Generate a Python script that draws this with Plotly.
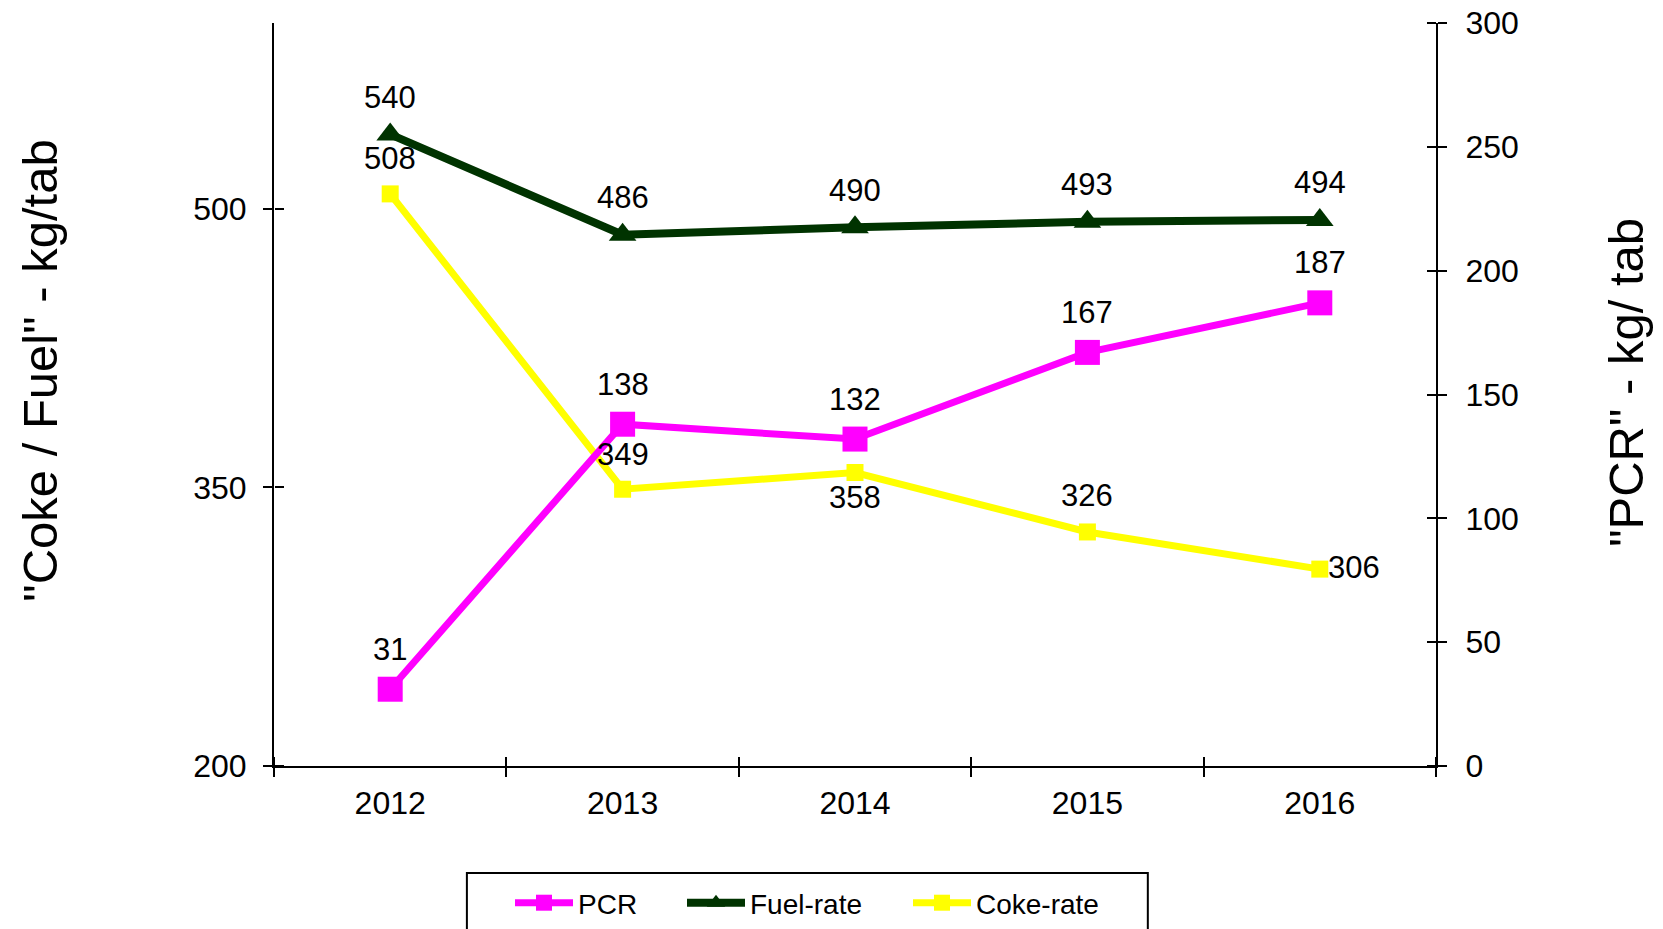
import plotly.graph_objects as go

years = ["2012", "2013", "2014", "2015", "2016"]
pcr = [31, 138, 132, 167, 187]
fuel_rate = [540, 486, 490, 493, 494]
coke_rate = [508, 349, 358, 326, 306]

# label offsets (px) relative to each point
pcr_label_dy = [-40, -40, -40, -40, -40]
fuel_label_dy = [-37, -37, -37, -37, -37]
coke_label_dy = [-35, -35, 25, -36, -2]
coke_label_dx = [0, 0, 0, 0, 34]

left_ticks = [200, 350, 500]
left_range = [200, 600]
right_range = [0, 300]

FONT = "Arial, 'Liberation Sans', sans-serif"
idx = list(range(len(years)))
bounds = [i - 0.5 for i in range(len(years) + 1)]

fig = go.Figure()

fig.add_trace(go.Scatter(
    x=idx, y=coke_rate, name="Coke-rate", mode="lines+markers",
    line=dict(color="#FFFF00", width=7),
    marker=dict(symbol="square", size=17, color="#FFFF00"),
    yaxis="y", legend="legend3", hoverinfo="skip",
))
fig.add_trace(go.Scatter(
    x=idx, y=fuel_rate, name="Fuel-rate", mode="lines+markers",
    line=dict(color="#003300", width=8),
    marker=dict(symbol="triangle-up", size=24, color="#003300"),
    yaxis="y", legend="legend2", hoverinfo="skip",
))
fig.add_trace(go.Scatter(
    x=idx, y=pcr, name="PCR", mode="lines+markers",
    line=dict(color="#FF00FF", width=7),
    marker=dict(symbol="square", size=25, color="#FF00FF"),
    yaxis="y2", legend="legend", hoverinfo="skip",
))
# helper (empty) traces so the crossing-tick overlay axes get drawn
fig.add_trace(go.Scatter(x=[None], y=[None], xaxis="x2", yaxis="y3", showlegend=False, hoverinfo="skip"))
fig.add_trace(go.Scatter(x=[None], y=[None], xaxis="x3", yaxis="y4", showlegend=False, hoverinfo="skip"))

annotations = []
lab_font = dict(family=FONT, size=31, color="black")
for i, v in enumerate(pcr):
    annotations.append(dict(x=idx[i], y=v, xref="x", yref="y2", text=str(v), showarrow=False,
                            yshift=-pcr_label_dy[i], font=lab_font))
for i, v in enumerate(fuel_rate):
    annotations.append(dict(x=idx[i], y=v, xref="x", yref="y", text=str(v), showarrow=False,
                            yshift=-fuel_label_dy[i], font=lab_font))
for i, v in enumerate(coke_rate):
    annotations.append(dict(x=idx[i], y=v, xref="x", yref="y", text=str(v), showarrow=False,
                            yshift=-coke_label_dy[i], xshift=coke_label_dx[i], font=lab_font))

annotations += [
    dict(text='"Coke / Fuel" - kg/tab', xref="paper", yref="paper", x=-0.2014, y=0.532,
         textangle=-90, showarrow=False, font=dict(family=FONT, size=49, color="black"),
         xanchor="center", yanchor="middle"),
    dict(text='"PCR" - kg/ tab', xref="paper", yref="paper", x=1.1635, y=0.517,
         textangle=-90, showarrow=False, font=dict(family=FONT, size=49, color="black"),
         xanchor="center", yanchor="middle"),
]

common_tick = dict(tickcolor="black", tickwidth=2, ticklen=9, showgrid=False, zeroline=False,
                   automargin=False)
leg_common = dict(orientation="h", y=-0.1844, yanchor="middle", xanchor="left",
                  bgcolor="rgba(0,0,0,0)", borderwidth=0,
                  font=dict(family=FONT, size=28, color="black"), itemwidth=58)

fig.update_layout(
    width=1663, height=929,
    margin=dict(l=274, r=227, t=23, b=163, autoexpand=False),
    paper_bgcolor="white", plot_bgcolor="white",
    font=dict(family=FONT, size=31, color="black"),
    xaxis=dict(range=[-0.5, 4.5], tickvals=bounds, ticktext=[""] * len(bounds), ticks="outside",
               showline=True, linecolor="black", linewidth=2, **common_tick),
    # year labels (no ticks)
    xaxis2=dict(overlaying="x", anchor="y", range=[-0.5, 4.5], tickvals=idx, ticktext=years,
                ticks="", showline=False, showgrid=False, zeroline=False, automargin=False,
                tickfont=dict(size=32), ticklabelstandoff=15),
    # upward half of the crossing x ticks
    xaxis3=dict(overlaying="x", anchor="free", position=0, side="top", range=[-0.5, 4.5],
                tickvals=bounds, ticks="outside", showticklabels=False, showline=False, **common_tick),
    yaxis=dict(range=left_range, tickvals=left_ticks, ticks="outside",
               showline=True, linecolor="black", linewidth=2,
               tickfont=dict(size=32), ticklabelstandoff=10, **common_tick),
    yaxis2=dict(overlaying="y", side="right", anchor="x", range=right_range, dtick=50,
                ticks="outside", showline=True, linecolor="black", linewidth=2,
                tickfont=dict(size=32), ticklabelstandoff=12, **common_tick),
    yaxis3=dict(overlaying="y", side="right", anchor="free", position=0, range=left_range,
                tickvals=left_ticks, ticks="outside", showticklabels=False, showline=False,
                **common_tick),
    yaxis4=dict(overlaying="y", side="left", anchor="free", position=1, range=right_range,
                dtick=50, ticks="outside", showticklabels=False, showline=False, **common_tick),
    showlegend=True,
    legend=dict(x=(510 - 274) / 1162, **leg_common),
    legend2=dict(x=(682 - 274) / 1162, **leg_common),
    legend3=dict(x=(908 - 274) / 1162, **leg_common),
    annotations=annotations,
    shapes=[
        dict(type="rect", xref="paper", yref="paper", x0=0.166, x1=0.752, y0=-0.144, y1=-0.3,
             line=dict(color="black", width=2), fillcolor="rgba(0,0,0,0)"),
    ],
)

fig.write_html("out.html", config={"displayModeBar": False},
               post_script="document.body.style.margin='0';")
